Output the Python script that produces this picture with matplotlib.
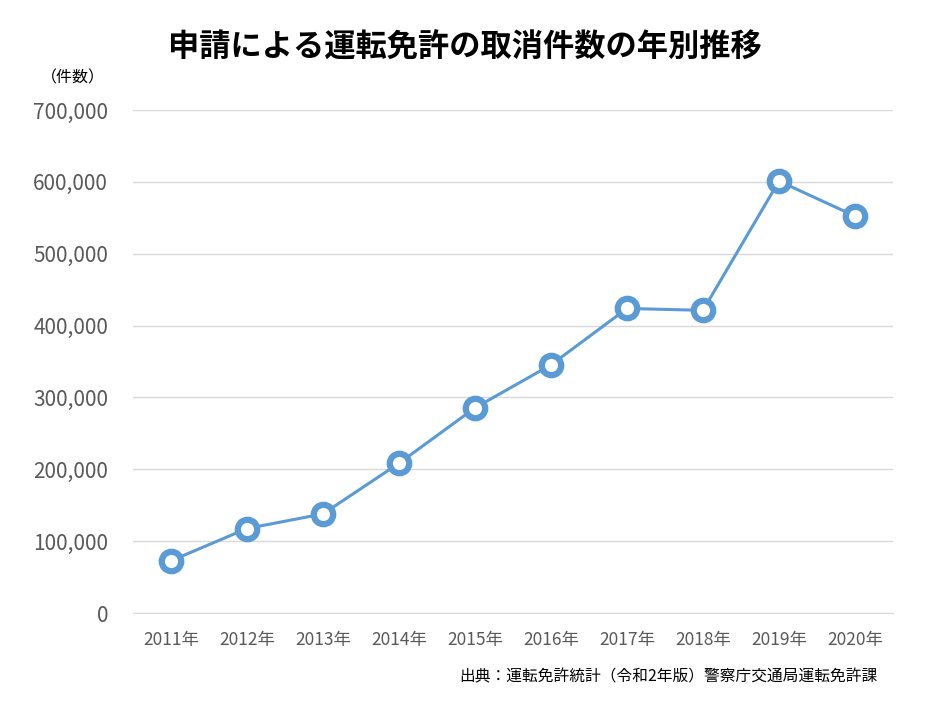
import matplotlib
matplotlib.use("Agg")
import matplotlib.pyplot as plt
from matplotlib.ticker import FuncFormatter

plt.rcParams["font.family"] = ["Noto Sans CJK JP", "DejaVu Sans"]

# Data
years = ["2011年", "2012年", "2013年", "2014年", "2015年",
         "2016年", "2017年", "2018年", "2019年", "2020年"]
cancellations = [72735, 117613, 137937, 208414, 285514,
                 345313, 423800, 421190, 601022, 552381]
y_ticks = [0, 100000, 200000, 300000, 400000, 500000, 600000, 700000]

line_color = "#5B9BD5"
grid_color = "#D9D9D9"
text_gray = "#595959"

fig = plt.figure(figsize=(9.34, 7.01), dpi=100)
ax = fig.add_axes([0.1424, 0.1255, 0.8137, 0.7176])

x = range(len(years))
ax.plot(x, cancellations, color=line_color, linewidth=2.2,
        marker="o", markersize=14, markerfacecolor="white",
        markeredgecolor=line_color, markeredgewidth=4.5, zorder=3)

ax.set_xlim(-0.5, len(years) - 0.5)
ax.set_ylim(0, 700000)
ax.set_yticks(y_ticks)
ax.yaxis.set_major_formatter(FuncFormatter(lambda v, p: f"{int(v):,}"))
ax.set_xticks(list(x))
ax.set_xticklabels(years)

ax.grid(axis="y", color=grid_color, linewidth=1.0)
ax.set_axisbelow(True)
for s in ["top", "right", "left"]:
    ax.spines[s].set_visible(False)
ax.spines["bottom"].set_color(grid_color)
ax.tick_params(axis="both", length=0)
ax.tick_params(axis="y", labelsize=15, labelcolor=text_gray, pad=18)
ax.tick_params(axis="x", labelsize=12.5, labelcolor=text_gray, pad=13)

fig.text(0.498, 0.932, "申請による運転免許の取消件数の年別推移",
         ha="center", va="center", fontsize=22.5, fontweight="bold")
fig.text(0.078, 0.889, "（件数）", ha="center", va="center", fontsize=11.5)
fig.text(0.940, 0.034, "出典：運転免許統計（令和2年版）警察庁交通局運転免許課",
         ha="right", va="center", fontsize=11.3)

fig.savefig("out.png", dpi=100)
